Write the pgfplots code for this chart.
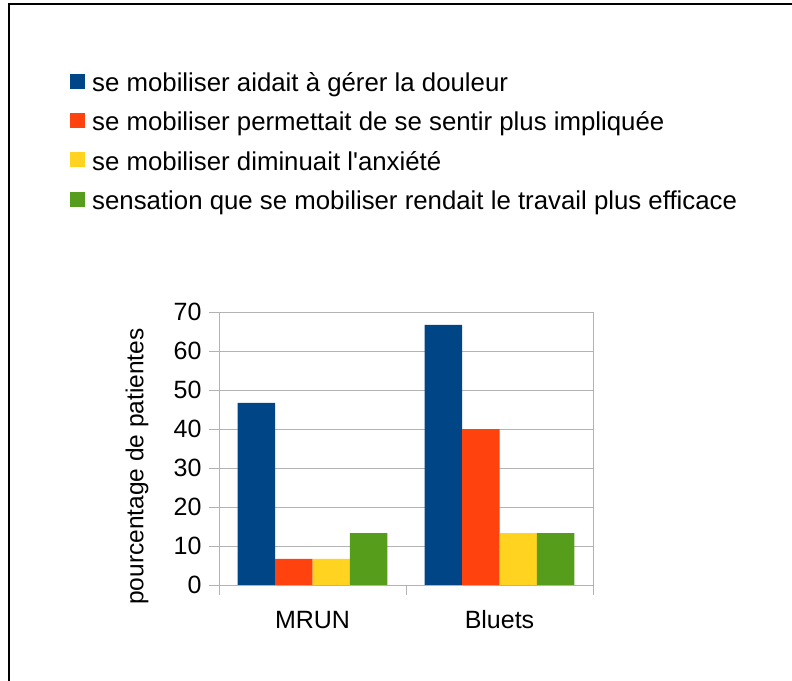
\documentclass[border=0pt]{standalone}
\usepackage{pgfplots}
\pgfplotsset{compat=1.18}
\usepackage{fontspec}
\setmainfont{Liberation Sans}[Ligatures=TeXOff]

\definecolor{serA}{HTML}{004586}
\definecolor{serB}{HTML}{FF420E}
\definecolor{serC}{HTML}{FFD320}
\definecolor{serD}{HTML}{579D1C}
\definecolor{axgray}{HTML}{B3B3B3}

\begin{document}
\begin{tikzpicture}
\path[use as bounding box] (0bp,0bp) rectangle (792bp,681bp);
\draw[black, line width=1.6bp] (9bp,0bp) -- (9bp,677bp) -- (792bp,677bp);
\begin{axis}[
  at={(219bp,96bp)}, anchor=south west,
  width=374bp, height=273bp, scale only axis,
  xmin=-0.5, xmax=1.5, ymin=0, ymax=70,
  ybar=0pt, bar width=0.2,
  axis line style={axgray},
  tick style={axgray, line width=0.8bp},
  tick align=outside, tick pos=left, major tick length=10bp,
  ytick={0,10,...,70},
  yticklabel style={xshift=-4bp},
  ymajorgrids, grid style={axgray, line width=0.8bp},
  xtick={-0.5,0.5,1.5}, xticklabels={},
  extra x ticks={0,1}, extra x tick labels={MRUN,Bluets},
  extra x tick style={major tick length=0pt, xmajorgrids=false,
    xticklabel style={anchor=north, yshift=-22bp, text height=18bp, text depth=0bp}},
  /pgf/number format/assume math mode=true,
  tick label style={font=\fontsize{25bp}{30bp}\selectfont},
  label style={font=\fontsize{24.5bp}{30bp}\selectfont},
  ylabel={pourcentage de patientes},
  ylabel style={at={(axis description cs:-0.219,0.434)}, anchor=center},
  legend style={at={(axis description cs:-0.4064,1.903)}, anchor=north west,
    draw=none, fill=none, font=\fontsize{25.8bp}{31bp}\selectfont,
    row sep=12.3bp, column sep=7bp,
    nodes={inner sep=0pt, text height=24bp, text depth=3bp}},
  legend cell align=left,
  every axis plot post/.append style={
    legend image code/.code={\fill[##1, draw=none] (0bp,-7.5bp) rectangle (15bp,7.5bp);}},
]
\addplot[fill=serA, draw=none] coordinates {(0,46.67) (1,66.67)};
\addplot[fill=serB, draw=none] coordinates {(0,6.67) (1,40)};
\addplot[fill=serC, draw=none] coordinates {(0,6.67) (1,13.33)};
\addplot[fill=serD, draw=none] coordinates {(0,13.33) (1,13.33)};
\legend{se mobiliser aidait à gérer la douleur,
  se mobiliser permettait de se sentir plus impliquée,
  se mobiliser diminuait l'anxiété,
  sensation que se mobiliser rendait le travail plus efficace}
\end{axis}
\end{tikzpicture}
\end{document}
